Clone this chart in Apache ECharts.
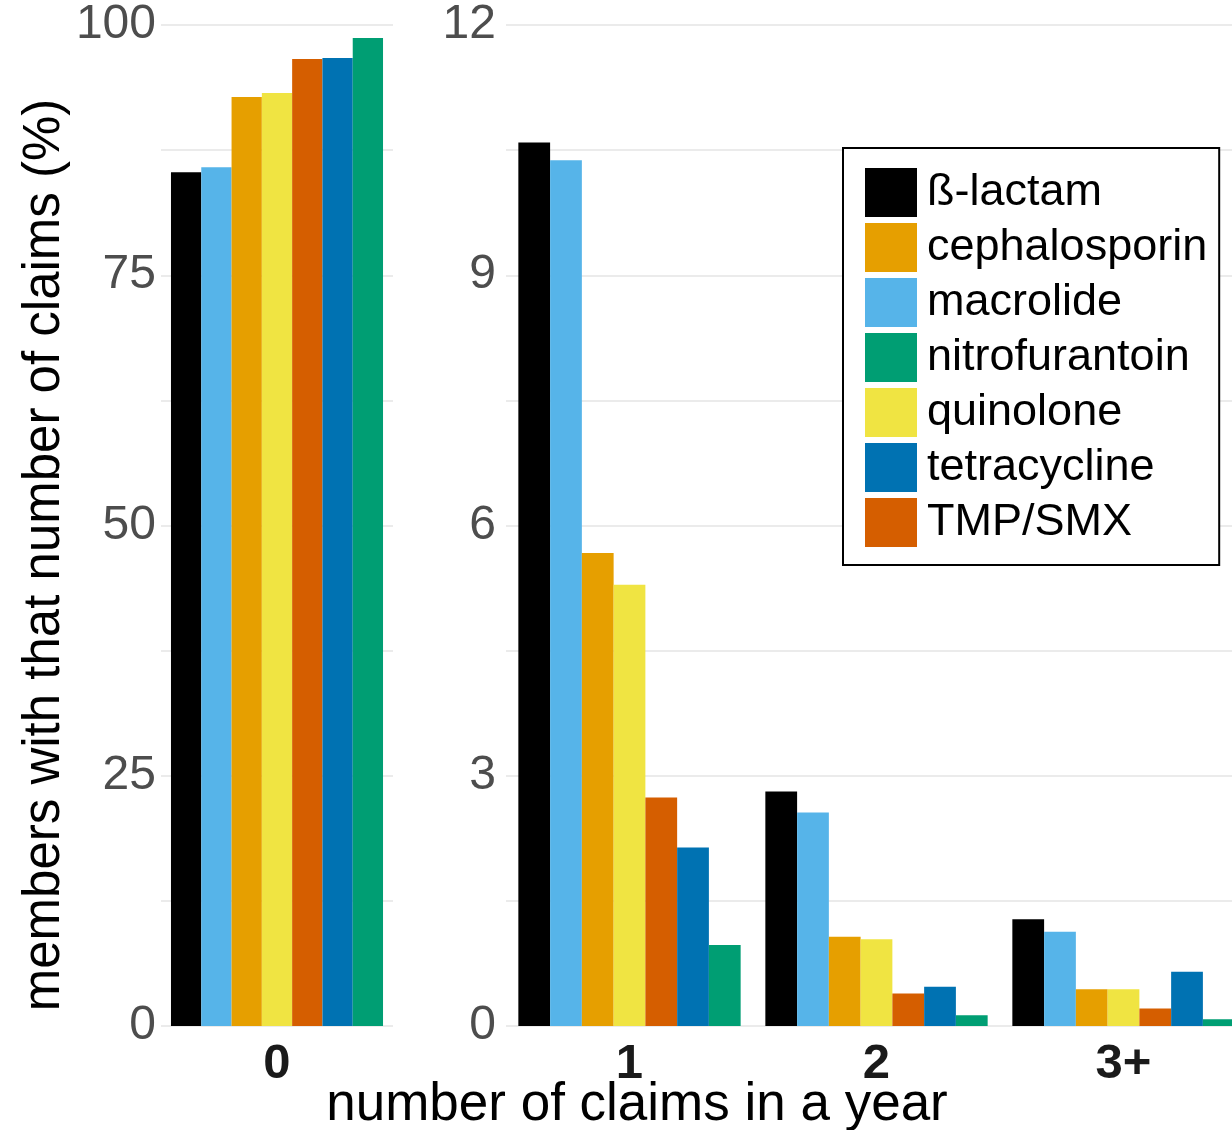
<!DOCTYPE html>
<html>
<head>
<meta charset="utf-8">
<script src="https://cdn.jsdelivr.net/npm/echarts@6/dist/echarts.min.js"></script>
<style>
  html, body { margin: 0; padding: 0; background: #fff; overflow: hidden; }
  #main { width: 1260px; height: 1130px; }
</style>
</head>
<body>
<div id="main"></div>
<script>
// bar order inside each group
var drugs = ['ß-lactam', 'macrolide', 'cephalosporin', 'quinolone', 'TMP/SMX', 'tetracycline', 'nitrofurantoin'];
var drugColors = ['#000000', '#56B4E9', '#E69F00', '#F0E442', '#D55E00', '#0072B2', '#009E73'];
var legendOrder = ['ß-lactam', 'cephalosporin', 'macrolide', 'nitrofurantoin', 'quinolone', 'tetracycline', 'TMP/SMX'];

var leftCategories = ['0'];
var rightCategories = ['1', '2', '3+'];

// % of members, one value per drug (same order as drugs)
var claims0 = [85.3, 85.8, 92.8, 93.2, 96.6, 96.7, 98.7];
var claims1 = [10.59, 10.38, 5.67, 5.29, 2.74, 2.14, 0.97];
var claims2 = [2.81, 2.56, 1.07, 1.04, 0.39, 0.47, 0.13];
var claims3plus = [1.28, 1.13, 0.44, 0.44, 0.21, 0.65, 0.08];

var leftTicks = { min: 0, max: 100, interval: 25 };
var rightTicks = { min: 0, max: 12, interval: 3 };

var font = 'Liberation Sans, Arial, sans-serif';
var gridColor = '#EBEBEB';

// the plot runs past the right edge of the picture, so the canvas is a bit wider than the window
var chart = echarts.init(document.getElementById('main'));

function yAxis(gridIndex, ticks, margin) {
    return {
        type: 'value', gridIndex: gridIndex,
        min: ticks.min, max: ticks.max, interval: ticks.interval,
        axisLine: { show: false }, axisTick: { show: false },
        axisLabel: { color: '#4D4D4D', fontSize: 48, fontFamily: font, margin: margin },
        splitLine: { lineStyle: { color: gridColor, width: 2 } },
        minorTick: { show: false, splitNumber: 2 },
        minorSplitLine: { show: true, lineStyle: { color: gridColor, width: 2 } }
    };
}

function xAxis(gridIndex, cats) {
    return {
        type: 'category', gridIndex: gridIndex, data: cats,
        axisLine: { show: false }, axisTick: { show: false },
        axisLabel: { color: '#1A1A1A', fontSize: 49, fontWeight: 'bold', fontFamily: font, margin: 14 },
        splitLine: { show: false }
    };
}

var series = [];
drugs.forEach(function (name, i) {
    series.push({
        name: name, type: 'bar', xAxisIndex: 0, yAxisIndex: 0,
        data: [claims0[i]],
        itemStyle: { color: drugColors[i] },
        barGap: 0, barCategoryGap: '8.6%',
        animation: false
    });
});
drugs.forEach(function (name, i) {
    series.push({
        name: name, type: 'bar', xAxisIndex: 1, yAxisIndex: 1,
        data: [claims1[i], claims2[i], claims3plus[i]],
        itemStyle: { color: drugColors[i] },
        barGap: 0, barCategoryGap: '10%',
        animation: false
    });
});

chart.setOption({
    animation: false,
    textStyle: { fontFamily: font },
    grid: [
        { left: 161, top: 25, width: 232, height: 1001 },
        { left: 506, top: 25, width: 741, height: 1001 }
    ],
    xAxis: [xAxis(0, leftCategories), xAxis(1, rightCategories)],
    yAxis: [yAxis(0, leftTicks, 5), yAxis(1, rightTicks, 10)],
    legend: {
        data: legendOrder,
        orient: 'vertical',
        left: 843, top: 148,
        icon: 'rect',
        itemWidth: 52, itemHeight: 49, itemGap: 6,
        padding: [20, 12, 18, 22],
        borderColor: '#000', borderWidth: 2,
        backgroundColor: '#fff',
        textStyle: { color: '#000', fontSize: 45, fontFamily: font, padding: [0, 0, 0, 5] }
    },
    graphic: [
        {
            type: 'text', x: 637, y: 1105,
            style: { text: 'number of claims in a year', fill: '#000', fontSize: 53, fontFamily: font,
                     textAlign: 'center', textVerticalAlign: 'middle' }
        },
        {
            type: 'text', x: 45, y: 555, rotation: Math.PI / 2,
            style: { text: 'members with that number of claims (%)', fill: '#000', fontSize: 51, fontFamily: font,
                     textAlign: 'center', textVerticalAlign: 'middle' }
        }
    ],
    series: series
});
</script>
</body>
</html>
